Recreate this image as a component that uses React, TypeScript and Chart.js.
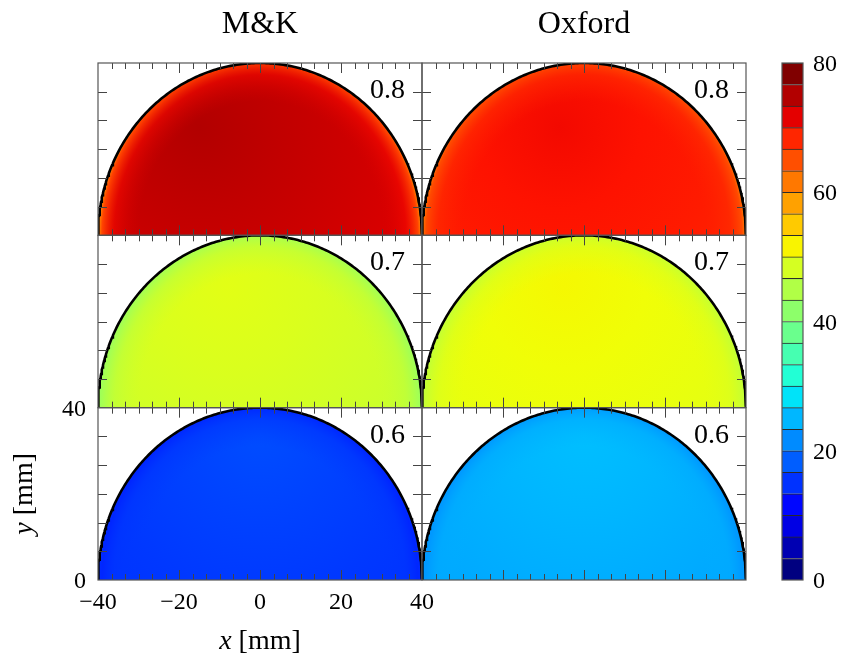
import React, { useEffect, useRef } from 'react';
import { Chart, registerables } from 'chart.js';

Chart.register(...registerables);

const W = 842;
const H = 659;
const SERIF = "'Liberation Serif', 'Times New Roman', 'DejaVu Serif', serif";

// ---- labels and ticks ----
const COLUMN_TITLES = ['M&K', 'Oxford'];
const ROW_LABELS = ['0.8', '0.7', '0.6'];
const X_TICK_LABELS = [-40, -20, 0, 20, 40];
const Y_TICK_LABELS = [0, 40];
const CBAR_TICKS = [0, 20, 40, 60, 80];
const CBAR_MIN = 0;
const CBAR_MAX = 80;
const CBAR_LEVELS = 24;
const DISC_R = 40; // mm

// ---- field data (colour-scale units) ----
// Interior: centre of the smooth variation (mm) and values at 0, 20, 40, 60 mm from it
const MK_CENTRE_X = [-15, -8, 0];
const MK_CENTRE_Y = [25, 28, 34];
const MK_FIELD = [
  [76.5, 75.5, 74.5, 73.5],
  [50.0, 49.2, 48.2, 47.2],
  [16.0, 15.2, 14.4, 13.8],
];
const OX_CENTRE_X = [-6, -5, 0];
const OX_CENTRE_Y = [25, 28, 34];
const OX_FIELD = [
  [72.0, 71.3, 70.5, 69.5],
  [51.8, 51.3, 50.6, 49.8],
  [25.0, 24.3, 23.5, 22.8],
];
// Rim: values at radii 30, 36, 39, 40 mm
const RIM_R = [30, 36, 39, 40];
const MK_RIM = [
  [74.0, 72.0, 67.0, 60.0],
  [47.5, 46.0, 44.0, 43.0],
  [14.5, 14.0, 13.0, 13.5],
];
const OX_RIM = [
  [70.0, 69.0, 66.5, 62.0],
  [50.0, 49.0, 47.5, 46.5],
  [23.8, 23.3, 22.0, 22.0],
];
const RIM_ALPHA = [0, 0.6, 1, 1];
const RIM_STRETCH_Y = 1.035; // rim band is thinner across the top

// ---- layout (page pixels) ----
const COL_X: [number, number][] = [[98, 422], [422, 746]];
const ROW_Y: [number, number][] = [[63, 235.33], [235.33, 407.67], [407.67, 580]];
const CBAR_X: [number, number] = [782, 803];
const CBAR_Y: [number, number] = [63, 580];

// ---- jet colour map ----
function interp(pts: number[][], t: number) {
  for (let i = 1; i < pts.length; i++) {
    if (t <= pts[i][0]) {
      const [x0, y0] = pts[i - 1];
      const [x1, y1] = pts[i];
      return y0 + ((y1 - y0) * (t - x0)) / (x1 - x0);
    }
  }
  return pts[pts.length - 1][1];
}
const JET_R = [[0, 0], [0.35, 0], [0.66, 1], [0.89, 1], [1, 0.5]];
const JET_G = [[0, 0], [0.125, 0], [0.375, 1], [0.64, 1], [0.91, 0], [1, 0]];
const JET_B = [[0, 0.5], [0.11, 1], [0.34, 1], [0.65, 0], [1, 0]];
function jet(t: number, a = 1) {
  const c = Math.max(0, Math.min(1, t));
  const r = Math.round(255 * interp(JET_R, c));
  const g = Math.round(255 * interp(JET_G, c));
  const b = Math.round(255 * interp(JET_B, c));
  return `rgba(${r},${g},${b},${a})`;
}
function valueColor(v: number, a = 1) {
  return jet((v - CBAR_MIN) / (CBAR_MAX - CBAR_MIN), a);
}

// half-disc boundary of radius DISC_R
function arcPoints() {
  const pts: { x: number; y: number }[] = [];
  const n = 240;
  for (let i = 0; i <= n; i++) {
    const th = Math.PI - (Math.PI * i) / n;
    pts.push({ x: DISC_R * Math.cos(th), y: DISC_R * Math.sin(th) });
  }
  return pts;
}

function drawMixed(ctx: CanvasRenderingContext2D, parts: [string, string][], cx: number, y: number) {
  let total = 0;
  for (const [txt, font] of parts) {
    ctx.font = font;
    total += ctx.measureText(txt).width;
  }
  let x = cx - total / 2;
  ctx.textAlign = 'left';
  for (const [txt, font] of parts) {
    ctx.font = font;
    ctx.fillText(txt, x, y);
    x += ctx.measureText(txt).width;
  }
}

function panelConfig(col: number, row: number) {
  const [x0, x1] = COL_X[col];
  const [y0, y1] = ROW_Y[row];
  const field = col === 0 ? MK_FIELD[row] : OX_FIELD[row];
  const hx = col === 0 ? MK_CENTRE_X[row] : OX_CENTRE_X[row];
  const hy = col === 0 ? MK_CENTRE_Y[row] : OX_CENTRE_Y[row];
  const rim = col === 0 ? MK_RIM[row] : OX_RIM[row];
  const arc = arcPoints();

  const fieldFill = (c: any) => {
    const chart = c.chart;
    const xs = chart.scales.x;
    const ys = chart.scales.y;
    if (!chart.chartArea || !xs || !ys) return valueColor(field[0]);
    const cx = xs.getPixelForValue(hx);
    const cy = ys.getPixelForValue(hy);
    const pxmm = xs.getPixelForValue(1) - xs.getPixelForValue(0);
    const g = chart.ctx.createRadialGradient(cx, cy, 0, cx, cy, 60 * pxmm);
    field.forEach((v: number, i: number) => g.addColorStop(i / (field.length - 1), valueColor(v)));
    return g;
  };

  const plugin = {
    id: 'panelDecor',
    beforeDatasetDraw(chart: any, args: any) {
      if (args.index !== 0) return;
      // rim band, elliptical in page pixels
      const ctx = chart.ctx as CanvasRenderingContext2D;
      const xs = chart.scales.x;
      const ys = chart.scales.y;
      const cx = xs.getPixelForValue(0);
      const cy = ys.getPixelForValue(0);
      const rx = xs.getPixelForValue(DISC_R) - cx;
      const ry = cy - ys.getPixelForValue(DISC_R);
      ctx.save();
      ctx.beginPath();
      ctx.ellipse(cx, cy, rx, ry, 0, Math.PI, 2 * Math.PI);
      ctx.closePath();
      ctx.clip();
      ctx.translate(cx, cy);
      ctx.scale(1, (ry * RIM_STRETCH_Y) / rx);
      const g = ctx.createRadialGradient(0, 0, 0, 0, 0, rx);
      RIM_R.forEach((r, i) => g.addColorStop(r / DISC_R, valueColor(rim[i], RIM_ALPHA[i])));
      ctx.fillStyle = g;
      ctx.fillRect(-rx - 2, -rx * 1.2, 2 * rx + 4, rx * 1.2 + 2);
      ctx.restore();
    },
    afterDraw(chart: any) {
      const ctx = chart.ctx as CanvasRenderingContext2D;
      const { left, right, top, bottom } = chart.chartArea;
      const xs = chart.scales.x;
      const ys = chart.scales.y;
      ctx.save();
      // inward ticks
      ctx.strokeStyle = '#444';
      ctx.lineWidth = 1;
      ctx.beginPath();
      const xSteps = 24;
      for (let k = 1; k < xSteps; k++) {
        const v = -40 + (80 * k) / xSteps;
        const px = Math.round(xs.getPixelForValue(v)) + 0.5;
        const len = k % 6 === 0 ? 10 : 6;
        ctx.moveTo(px, bottom);
        ctx.lineTo(px, bottom - len);
        ctx.moveTo(px, top);
        ctx.lineTo(px, top + len);
      }
      const ySteps = 6;
      for (let k = 1; k < ySteps; k++) {
        const v = (40 * k) / ySteps;
        const py = Math.round(ys.getPixelForValue(v)) + 0.5;
        ctx.moveTo(left, py);
        ctx.lineTo(left + 9, py);
        ctx.moveTo(right, py);
        ctx.lineTo(right - 9, py);
      }
      ctx.stroke();
      // frame
      ctx.strokeStyle = '#555';
      ctx.lineWidth = 1.2;
      ctx.strokeRect(left, top, right - left, bottom - top);

      ctx.fillStyle = '#000';
      // Panel label
      ctx.font = `28px ${SERIF}`;
      ctx.textAlign = 'right';
      ctx.textBaseline = 'alphabetic';
      ctx.fillText(ROW_LABELS[row], right - 17, top + 35);

      if (row === 0) {
        ctx.font = `32px ${SERIF}`;
        ctx.textAlign = 'center';
        ctx.fillText(COLUMN_TITLES[col], (left + right) / 2, 33);
      }

      if (col === 0 && row === ROW_LABELS.length - 1) {
        ctx.font = `24px ${SERIF}`;
        ctx.textAlign = 'center';
        for (const v of X_TICK_LABELS) {
          const txt = v < 0 ? `\u2212${Math.abs(v)}` : `${v}`;
          ctx.fillText(txt, xs.getPixelForValue(v), bottom + 29);
        }
        ctx.textAlign = 'right';
        for (const v of Y_TICK_LABELS) {
          ctx.fillText(`${v}`, left - 12, ys.getPixelForValue(v) + 8);
        }
        // axis titles
        drawMixed(ctx, [['x', `italic 28px ${SERIF}`], [' [mm]', `28px ${SERIF}`]], xs.getPixelForValue(0), 649);
        ctx.save();
        ctx.translate(32, (top + bottom) / 2);
        ctx.rotate(-Math.PI / 2);
        drawMixed(ctx, [['y', `italic 28px ${SERIF}`], [' [mm]', `28px ${SERIF}`]], 0, 0);
        ctx.restore();
      }
      ctx.restore();
    },
  };

  return {
    type: 'scatter',
    data: {
      datasets: [
        {
          label: 'outline',
          data: arc,
          showLine: true,
          borderColor: '#000',
          borderWidth: 2.6,
          pointRadius: 0,
          fill: false,
          tension: 0,
          order: 0,
        },
        {
          label: 'field',
          data: arc,
          showLine: true,
          borderColor: 'rgba(0,0,0,0)',
          borderWidth: 0,
          pointRadius: 0,
          fill: 'origin',
          backgroundColor: fieldFill,
          tension: 0,
          order: 1,
        },
      ],
    },
    options: {
      responsive: false,
      animation: false,
      events: [],
      layout: { padding: { left: x0, top: y0, right: W - x1, bottom: H - y1 } },
      scales: {
        x: { type: 'linear', min: -40, max: 40, display: false },
        y: { type: 'linear', min: 0, max: 40, display: false },
      },
      plugins: { legend: { display: false }, tooltip: { enabled: false } },
    },
    plugins: [plugin],
  };
}

function colorbarConfig() {
  const step = (CBAR_MAX - CBAR_MIN) / CBAR_LEVELS;
  const datasets = Array.from({ length: CBAR_LEVELS }, (_, i) => ({
    label: `${CBAR_MIN + i * step}`,
    data: [step],
    backgroundColor: jet(i / (CBAR_LEVELS - 1)),
    borderColor: '#2a2a2a',
    borderWidth: { top: 1, bottom: 0, left: 0, right: 0 },
    borderSkipped: false,
    categoryPercentage: 1,
    barPercentage: 1,
  }));
  const plugin = {
    id: 'cbarDecor',
    afterDraw(chart: any) {
      const ctx = chart.ctx as CanvasRenderingContext2D;
      const { left, right, top, bottom } = chart.chartArea;
      const ys = chart.scales.y;
      ctx.save();
      ctx.strokeStyle = '#555';
      ctx.lineWidth = 1.2;
      ctx.strokeRect(left, top, right - left, bottom - top);
      ctx.fillStyle = '#000';
      ctx.font = `24px ${SERIF}`;
      ctx.textAlign = 'left';
      ctx.textBaseline = 'alphabetic';
      for (const v of CBAR_TICKS) {
        ctx.fillText(`${v}`, right + 10, ys.getPixelForValue(v) + 8);
      }
      ctx.restore();
    },
  };
  return {
    type: 'bar',
    data: { labels: [''], datasets },
    options: {
      responsive: false,
      animation: false,
      events: [],
      layout: { padding: { left: CBAR_X[0], top: CBAR_Y[0], right: W - CBAR_X[1], bottom: H - CBAR_Y[1] } },
      scales: {
        x: { display: false, stacked: true },
        y: { display: false, stacked: true, min: CBAR_MIN, max: CBAR_MAX },
      },
      plugins: { legend: { display: false }, tooltip: { enabled: false } },
    },
    plugins: [plugin],
  };
}

function ChartCanvas({ make }: { make: () => any }) {
  const ref = useRef<HTMLCanvasElement>(null);
  useEffect(() => {
    if (!ref.current) return;
    const chart = new Chart(ref.current, make());
    return () => chart.destroy();
  }, []);
  return (
    <canvas
      ref={ref}
      width={W}
      height={H}
      style={{ position: 'absolute', left: 0, top: 0, width: W, height: H }}
    />
  );
}

export default function App() {
  const panels: [number, number][] = [];
  for (let r = 0; r < ROW_LABELS.length; r++) {
    for (let c = 0; c < COLUMN_TITLES.length; c++) panels.push([c, r]);
  }
  return (
    <div style={{ position: 'absolute', left: 0, top: 0, width: W, height: H, background: '#fff' }}>
      {panels.map(([c, r]) => (
        <ChartCanvas key={`${c}-${r}`} make={() => panelConfig(c, r)} />
      ))}
      <ChartCanvas make={colorbarConfig} />
    </div>
  );
}
